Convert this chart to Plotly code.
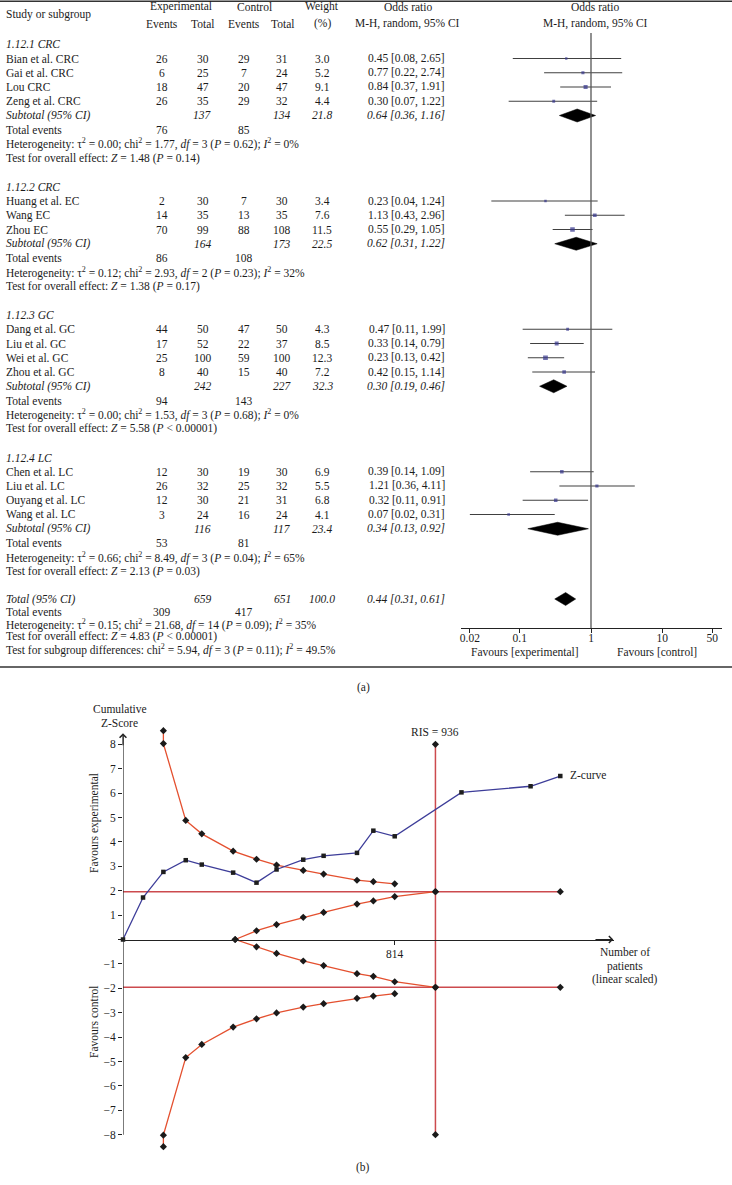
import math
import plotly.graph_objects as go

W, H = 732, 1185

# ---------------- Forest plot data (panel a) ----------------
group_titles = ["1.12.1 CRC", "1.12.2 CRC", "1.12.3 GC", "1.12.4 LC"]
study_names = [
    ["Bian et al. CRC", "Gai et al. CRC", "Lou CRC", "Zeng et al. CRC"],
    ["Huang et al. EC", "Wang EC", "Zhou EC"],
    ["Dang et al. GC", "Liu et al. GC", "Wei et al. GC", "Zhou et al. GC"],
    ["Chen et al. LC", "Liu et al. LC", "Ouyang et al. LC", "Wang et al. LC"],
]
exp_events = [[26, 6, 18, 26], [2, 14, 70], [44, 17, 25, 8], [12, 26, 12, 3]]
exp_total = [[30, 25, 47, 35], [30, 35, 99], [50, 52, 100, 40], [30, 32, 30, 24]]
ctl_events = [[29, 7, 20, 29], [7, 13, 88], [47, 22, 59, 15], [19, 25, 21, 16]]
ctl_total = [[31, 24, 47, 32], [30, 35, 108], [50, 37, 100, 40], [30, 32, 31, 24]]
weights = [[3.0, 5.2, 9.1, 4.4], [3.4, 7.6, 11.5], [4.3, 8.5, 12.3, 7.2], [6.9, 5.5, 6.8, 4.1]]
or_est = [[0.45, 0.77, 0.84, 0.30], [0.23, 1.13, 0.55], [0.47, 0.33, 0.23, 0.42], [0.39, 1.21, 0.32, 0.07]]
or_lo = [[0.08, 0.22, 0.37, 0.07], [0.04, 0.43, 0.29], [0.11, 0.14, 0.13, 0.15], [0.14, 0.36, 0.11, 0.02]]
or_hi = [[2.65, 2.74, 1.91, 1.22], [1.24, 2.96, 1.05], [1.99, 0.79, 0.42, 1.14], [1.09, 4.11, 0.91, 0.31]]

sub_exp_total = [137, 164, 242, 116]
sub_ctl_total = [134, 173, 227, 117]
sub_weight = [21.8, 22.5, 32.3, 23.4]
sub_or = [0.64, 0.62, 0.30, 0.34]
sub_lo = [0.36, 0.31, 0.19, 0.13]
sub_hi = [1.16, 1.22, 0.46, 0.92]
sub_exp_events = [76, 86, 94, 53]
sub_ctl_events = [85, 108, 143, 81]
het_tau2 = ["0.00", "0.12", "0.00", "0.66"]
het_chi2 = ["1.77", "2.93", "1.53", "8.49"]
het_df = ["3", "2", "3", "3"]
het_p = ["= 0.62", "= 0.23", "= 0.68", "= 0.04"]
het_i2 = ["0%", "32%", "0%", "65%"]
z_value = ["1.48", "1.38", "5.58", "2.13"]
z_p = ["= 0.14", "= 0.17", "< 0.00001", "= 0.03"]

total_exp_total, total_ctl_total, total_weight = 659, 651, 100.0
total_or, total_lo, total_hi = 0.44, 0.31, 0.61
total_exp_events, total_ctl_events = 309, 417
total_het = ("0.15", "21.68", "14", "= 0.09", "35%")
total_z = ("4.83", "< 0.00001")
subgroup_diff = ("5.94", "3", "= 0.11", "49.5%")

forest_ticks = [0.02, 0.1, 1, 10, 50]

# ---------------- TSA data (panel b) ----------------
tsa_patients = [0, 60, 121, 188, 236, 330, 400, 460, 540, 601, 701, 750, 814, 1014, 1221, 1310]
z_curve = [0, 1.72, 2.77, 3.25, 3.07, 2.74, 2.33, 2.87, 3.27, 3.43, 3.55, 4.46, 4.23, 6.03, 6.28, 6.70]
boundary_patients = [121, 121, 188, 236, 330, 400, 460, 540, 601, 701, 750, 814]
upper_boundary = [8.56, 8.03, 4.88, 4.33, 3.62, 3.29, 3.05, 2.83, 2.68, 2.43, 2.37, 2.28]
lower_boundary = [-8.49, -8.02, -4.84, -4.30, -3.59, -3.25, -3.01, -2.77, -2.63, -2.41, -2.32, -2.22]
futility_patients = [336, 400, 460, 540, 601, 701, 750, 814, 936]
futility_upper = [0, 0.36, 0.61, 0.91, 1.11, 1.45, 1.58, 1.76, 1.96]
futility_lower = [0, -0.30, -0.57, -0.88, -1.07, -1.40, -1.51, -1.73, -1.96]
ris = 936
z_crit = 1.96
max_patients = 1310
y_ticks = [-8, -7, -6, -5, -4, -3, -2, -1, 0, 1, 2, 3, 4, 5, 6, 7, 8]
x_ticks = [814]

# ---------------- styling / layout helpers ----------------
FONT = "Liberation Serif, Times New Roman, serif"
TXT = "#1c1c1c"
FS = 11.5
fig = go.Figure()
ann = []
shapes = []


def text(s, x, y, anchor="center", size=FS, angle=0, color=TXT):
    ann.append(dict(text=s, x=x / W, y=1 - y / H, xref="paper", yref="paper",
                    xanchor=anchor, yanchor="middle", showarrow=False,
                    font=dict(family=FONT, size=size, color=color), textangle=angle))


def row_y(i):
    return 58.5 + 14.25 * i


NAME_X, EE_X, ET_X, CE_X, CT_X, W_X, OR_R = 4, 162, 203, 244, 282, 322, 447


def fmt_or(o, l, h):
    return f"{o:.2f} [{l:.2f}, {h:.2f}]"


def het_text(t2, c2, df, p, i2):
    return (f"Heterogeneity: τ<sup>2</sup> = {t2}; chi<sup>2</sup> = {c2}, <i>df</i> = {df} "
            f"(<i>P</i> {p}); <i>I</i><sup>2</sup> = {i2}")


def z_text(z, p):
    return f"Test for overall effect: <i>Z</i> = {z} (<i>P</i> {p})"


# header
text("Study or subgroup", NAME_X, 15, anchor="left")
text("Experimental", 181, 7)
text("Events", EE_X, 24)
text("Total", ET_X, 24)
text("Control", 254, 7)
text("Events", CE_X, 24)
text("Total", CT_X, 24)
text("Weight", W_X, 7)
text("(%)", W_X, 24)
text("Odds ratio", 408, 7)
text("M-H, random, 95% CI", 407, 24)
text("Odds ratio", 595, 7)
text("M-H, random, 95% CI", 595, 24)

ci_x, ci_y, sq_x, sq_y, sq_s = [], [], [], [], []
diamonds = []

row = -1
for g in range(4):
    text(f"<i>{group_titles[g]}</i>", NAME_X, row_y(row), anchor="left")
    row += 1
    for k, name in enumerate(study_names[g]):
        y = row_y(row)
        text(name, NAME_X, y, anchor="left")
        text(str(exp_events[g][k]), EE_X, y)
        text(str(exp_total[g][k]), ET_X, y)
        text(str(ctl_events[g][k]), CE_X, y)
        text(str(ctl_total[g][k]), CT_X, y)
        text(f"{weights[g][k]:.1f}", W_X, y)
        text(fmt_or(or_est[g][k], or_lo[g][k], or_hi[g][k]), OR_R, y, anchor="right")
        ci_x += [or_lo[g][k], or_hi[g][k], None]
        ci_y += [y, y, None]
        sq_x.append(or_est[g][k])
        sq_y.append(y)
        sq_s.append(1.35 * math.sqrt(weights[g][k]))
        row += 1
    y = row_y(row)
    text("<i>Subtotal (95% CI)</i>", NAME_X, y, anchor="left")
    text(f"<i>{sub_exp_total[g]}</i>", ET_X, y)
    text(f"<i>{sub_ctl_total[g]}</i>", CT_X, y)
    text(f"<i>{sub_weight[g]:.1f}</i>", W_X, y)
    text(f"<i>{fmt_or(sub_or[g], sub_lo[g], sub_hi[g])}</i>", OR_R, y, anchor="right")
    diamonds.append((sub_lo[g], sub_or[g], sub_hi[g], y))
    row += 1
    y = row_y(row)
    text("Total events", NAME_X, y, anchor="left")
    text(str(sub_exp_events[g]), EE_X, y)
    text(str(sub_ctl_events[g]), CE_X, y)
    row += 1
    text(het_text(het_tau2[g], het_chi2[g], het_df[g], het_p[g], het_i2[g]), NAME_X, row_y(row), anchor="left")
    row += 1
    text(z_text(z_value[g], z_p[g]), NAME_X, row_y(row), anchor="left")
    row += 2

# overall block (slightly tighter line spacing)
y_tot = row_y(row) - 1
STEP = 12.5
text("<i>Total (95% CI)</i>", NAME_X, y_tot, anchor="left")
text(f"<i>{total_exp_total}</i>", ET_X, y_tot)
text(f"<i>{total_ctl_total}</i>", CT_X, y_tot)
text(f"<i>{total_weight:.1f}</i>", W_X, y_tot)
text(f"<i>{fmt_or(total_or, total_lo, total_hi)}</i>", OR_R, y_tot, anchor="right")
diamonds.append((total_lo, total_or, total_hi, y_tot))
y = y_tot + STEP
text("Total events", NAME_X, y, anchor="left")
text(str(total_exp_events), EE_X, y)
text(str(total_ctl_events), CE_X, y)
text(het_text(*total_het), NAME_X, y_tot + 2 * STEP, anchor="left")
text(z_text(*total_z), NAME_X, y_tot + 3 * STEP, anchor="left")
c2, df, p, i2 = subgroup_diff
text(f"Test for subgroup differences: chi<sup>2</sup> = {c2}, <i>df</i> = {df} (<i>P</i> {p}); "
     f"<i>I</i><sup>2</sup> = {i2}", NAME_X, y_tot + 4 * STEP, anchor="left")

# forest axis geometry
F_TOP, F_BOT = 33, 628
F_LEFT, F_RIGHT = 460.7, 721.7
text("Favours [experimental]", 525, 652)
text("Favours [control]", 657, 652)

fig.add_trace(go.Scatter(x=ci_x, y=ci_y, mode="lines", xaxis="x", yaxis="y",
                         line=dict(color="#404040", width=1.1), hoverinfo="skip", showlegend=False))
fig.add_trace(go.Scatter(x=sq_x, y=sq_y, mode="markers", xaxis="x", yaxis="y",
                         marker=dict(symbol="square", size=sq_s, color="#34348c", line=dict(width=0)),
                         showlegend=False))
DH = 6.5
for lo, o, hi, y in diamonds:
    fig.add_trace(go.Scatter(x=[lo, o, hi, o, lo], y=[y, y - DH, y, y + DH, y], mode="lines",
                             fill="toself", fillcolor="black", line=dict(color="black", width=0.5),
                             xaxis="x", yaxis="y", showlegend=False, hoverinfo="skip"))

shapes.append(dict(type="line", xref="x", yref="y", x0=1, x1=1, y0=F_TOP, y1=F_BOT,
                   line=dict(color="#555555", width=1.3)))
# panel a frame lines
shapes.append(dict(type="line", xref="paper", yref="paper", x0=0, x1=1, y0=1 - 1.2 / H, y1=1 - 1.2 / H,
                   line=dict(color="#333333", width=1.6)))
shapes.append(dict(type="line", xref="paper", yref="paper", x0=0, x1=1, y0=1 - 667 / H, y1=1 - 667 / H,
                   line=dict(color="#333333", width=1.6)))
text("(a)", 363, 687)

# ---------------- TSA (panel b) ----------------
X0_PX = 123.0
PX_PER_PAT = 0.3338
Y0_PX = 939.5
PX_PER_Z = 24.4
X_RIGHT_PX = 614.0
x2_max = (X_RIGHT_PX - X0_PX) / PX_PER_PAT
y2_lim = 9.0

RED1 = "#e4502f"
RED2 = "#cc4a4e"
BLUE = "#3d3d99"
mk = dict(symbol="diamond", size=5.5, color="#1a1a1a", line=dict(width=0))

for zc in (z_crit, -z_crit):
    fig.add_trace(go.Scatter(x=[0, max_patients], y=[zc, zc], mode="lines",
                             xaxis="x2", yaxis="y2", line=dict(color=RED2, width=1.5),
                             showlegend=False, hoverinfo="skip"))
    fig.add_trace(go.Scatter(x=[ris, max_patients], y=[zc, zc], mode="markers",
                             xaxis="x2", yaxis="y2", marker=mk, showlegend=False, cliponaxis=False))
fig.add_trace(go.Scatter(x=[ris, ris], y=[-8, 8], mode="lines+markers", xaxis="x2", yaxis="y2",
                         line=dict(color=RED2, width=1.5), marker=mk, showlegend=False, cliponaxis=False))
for ys in (upper_boundary, lower_boundary):
    fig.add_trace(go.Scatter(x=boundary_patients, y=ys, mode="lines+markers", xaxis="x2", yaxis="y2",
                             line=dict(color=RED1, width=1.3), marker=mk, showlegend=False,
                             cliponaxis=False))
for ys in (futility_upper, futility_lower):
    fig.add_trace(go.Scatter(x=futility_patients, y=ys, mode="lines+markers", xaxis="x2", yaxis="y2",
                             line=dict(color=RED1, width=1.3), marker=mk, showlegend=False,
                             cliponaxis=False))
fig.add_trace(go.Scatter(x=tsa_patients, y=z_curve, mode="lines+markers", xaxis="x2", yaxis="y2",
                         line=dict(color=BLUE, width=1.3),
                         marker=dict(symbol="square", size=4.5, color="#1e1e1e"),
                         showlegend=False, cliponaxis=False))

# y axis line with arrow
shapes.append(dict(type="line", xref="x2", yref="y2", x0=0, x1=0, y0=-8, y1=8.35,
                   line=dict(color="#222222", width=1.2)))
ann.append(dict(x=0, y=8.45, xref="x2", yref="y2", ax=0, ay=7.9, axref="x2", ayref="y2",
                showarrow=True, arrowhead=4, arrowsize=1.1, arrowwidth=1.2, arrowcolor="#222222", text=""))
ann.append(dict(x=x2_max - 2, y=0, xref="x2", yref="y2", ax=x2_max - 60, ay=0, axref="x2", ayref="y2",
                showarrow=True, arrowhead=4, arrowsize=1.1, arrowwidth=1.2, arrowcolor="#222222", text=""))

text("Cumulative", 120, 709)
text("Z-Score", 120, 723)
text("Favours experimental", 94, 823, angle=-90)
text("Favours control", 94, 1022, angle=-90)
text("RIS = 936", 435, 732)
text("Z-curve", 568, 775, anchor="left")
text("Number of", 625, 952)
text("patients", 625, 966)
text("(linear scaled)", 625, 979)
text("(b)", 363, 1167)

tick_font = dict(family=FONT, size=FS, color=TXT)
y_ticktext = ["" if v == 0 else (f"\u2212{abs(v)}" if v < 0 else str(v)) for v in y_ticks]

fig.update_layout(
    width=W, height=H, margin=dict(l=0, r=0, t=0, b=0),
    paper_bgcolor="white", plot_bgcolor="rgba(0,0,0,0)", showlegend=False,
    xaxis=dict(type="log", domain=[F_LEFT / W, F_RIGHT / W],
               range=[-(591 - F_LEFT) / 71.3, (F_RIGHT - 591) / 71.3],
               anchor="y", showline=True, linecolor="#222222", linewidth=1.3,
               tickvals=forest_ticks, ticktext=[str(v) for v in forest_ticks],
               ticks="outside", ticklen=4, tickcolor="#222222", tickfont=tick_font,
               ticklabelstandoff=-5,
               showgrid=False, zeroline=False, fixedrange=True),
    yaxis=dict(domain=[1 - F_BOT / H, 1 - F_TOP / H], range=[F_BOT, F_TOP], visible=False,
               showgrid=False, zeroline=False, anchor="x"),
    xaxis2=dict(domain=[X0_PX / W, X_RIGHT_PX / W], range=[0, x2_max], anchor="free",
                position=1 - Y0_PX / H, showline=True, linecolor="#222222", linewidth=1.2,
                tickvals=x_ticks, ticktext=[str(v) for v in x_ticks], ticks="outside", ticklen=4,
                tickcolor="#222222", tickfont=tick_font, showgrid=False, zeroline=False),
    yaxis2=dict(domain=[1 - (Y0_PX + y2_lim * PX_PER_Z) / H, 1 - (Y0_PX - y2_lim * PX_PER_Z) / H],
                range=[-y2_lim, y2_lim], anchor="x2", tickvals=y_ticks, ticktext=y_ticktext,
                ticks="outside", ticklen=4, tickcolor="#222222", tickfont=tick_font,
                showline=False, showgrid=False, zeroline=False),
    annotations=ann, shapes=shapes,
)

fig.write_html("out.html", config={"displayModeBar": False},
               post_script="document.body.style.margin='0';")
